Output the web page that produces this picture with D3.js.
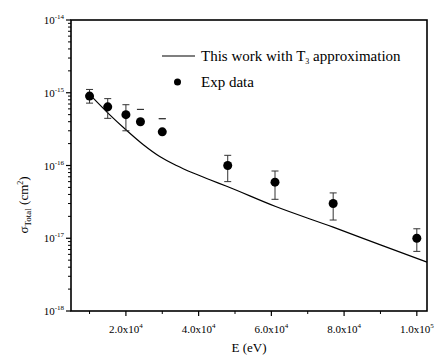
<!DOCTYPE html>
<html>
<head>
<meta charset="utf-8">
<script src="https://cdn.jsdelivr.net/npm/d3@7"></script>
<style>
  html, body { margin: 0; padding: 0; background: #fff; }
  text { font-family: "Liberation Serif", "Times New Roman", serif; fill: #000; }
</style>
</head>
<body>
<svg id="chart" width="435" height="358"></svg>
<script>
// Theory curve (This work with T3 approximation)
const curveE = [10000, 15000, 20000, 24800, 29300, 33900, 38500, 43100, 47700, 61000, 77000, 90000, 102800];
const curveSigma = [9.5e-16, 5.3e-16, 3.1e-16, 1.93e-16, 1.33e-16, 1.0e-16, 7.87e-17, 6.36e-17, 5.18e-17, 2.75e-17, 1.42e-17, 8.1e-18, 4.7e-18];

// Experimental data
const expE = [10000, 15000, 20000, 24000, 30000, 48000, 61000, 77000, 100000];
const expSigma = [9.0e-16, 6.4e-16, 5.0e-16, 4.0e-16, 2.9e-16, 1.0e-16, 5.9e-17, 3.0e-17, 1.0e-17];
const expErrHigh = [1.11e-15, 8.3e-16, 6.85e-16, 5.9e-16, 4.4e-16, 1.38e-16, 8.4e-17, 4.2e-17, 1.35e-17];
const expErrLow = [7.2e-16, 4.45e-16, 3.0e-16, 5.9e-16, 4.4e-16, 6.0e-17, 3.43e-17, 1.78e-17, 6.6e-18];

// Axis ticks
const xTicks = [20000, 40000, 60000, 80000, 100000];
const xTickLabels = ["2.0x10", "4.0x10", "6.0x10", "8.0x10", "1.0x10"];
const xTickExps = ["4", "4", "4", "4", "5"];
const xMinorTicks = [10000, 30000, 50000, 70000, 90000];
const yTicks = [1e-18, 1e-17, 1e-16, 1e-15, 1e-14];
const yTickExps = ["-18", "-17", "-16", "-15", "-14"];

const legendLabels = ["This work with T", "3", " approximation", "Exp data"];

const W = 435, H = 358;
const m = { left: 71, top: 20, right: 8, bottom: 47 };
const svg = d3.select("#chart");

const x = d3.scaleLinear().domain([4900, 102800]).range([m.left, W - m.right]);
const y = d3.scaleLog().domain([1e-18, 1e-14]).range([H - m.bottom, m.top]);

// frame
svg.append("rect")
  .attr("x", m.left).attr("y", m.top)
  .attr("width", W - m.right - m.left).attr("height", H - m.bottom - m.top)
  .attr("fill", "none").attr("stroke", "#000").attr("stroke-width", 1.6);

// y minor ticks
const yMinor = [];
for (let e = -18; e < -14; e++) for (let k = 2; k <= 9; k++) yMinor.push(k * Math.pow(10, e));
svg.append("g").selectAll("line").data(yMinor).join("line")
  .attr("x1", m.left - 3).attr("x2", m.left)
  .attr("y1", d => y(d)).attr("y2", d => y(d))
  .attr("stroke", "#000").attr("stroke-width", 1);
svg.append("g").selectAll("line").data(yTicks).join("line")
  .attr("x1", m.left - 5).attr("x2", m.left)
  .attr("y1", d => y(d)).attr("y2", d => y(d))
  .attr("stroke", "#000").attr("stroke-width", 1.2);

const yl = svg.append("g").selectAll("text").data(yTicks).join("text")
  .attr("x", m.left - 7).attr("y", d => y(d) + 4)
  .attr("text-anchor", "end").style("font-size", "11px");
yl.append("tspan").text("10");
yl.append("tspan").attr("dy", -5).style("font-size", "7px").text((d, i) => yTickExps[i]);

// x ticks
const yb = H - m.bottom;
svg.append("g").selectAll("line").data(xMinorTicks).join("line")
  .attr("x1", d => x(d)).attr("x2", d => x(d))
  .attr("y1", yb).attr("y2", yb + 3)
  .attr("stroke", "#000").attr("stroke-width", 1);
svg.append("g").selectAll("line").data(xTicks).join("line")
  .attr("x1", d => x(d)).attr("x2", d => x(d))
  .attr("y1", yb).attr("y2", yb + 5)
  .attr("stroke", "#000").attr("stroke-width", 1.2);
const xl = svg.append("g").selectAll("text").data(xTicks).join("text")
  .attr("x", d => x(d)).attr("y", yb + 22)
  .attr("text-anchor", "middle").style("font-size", "11px");
xl.append("tspan").text((d, i) => xTickLabels[i]);
xl.append("tspan").attr("dy", -5).style("font-size", "7px").text((d, i) => xTickExps[i]);

// axis titles
svg.append("text").attr("x", 249).attr("y", 352).attr("text-anchor", "middle")
  .style("font-size", "13px").text("E (eV)");
const yt = svg.append("text").attr("transform", "translate(28," + 205 + ") rotate(-90)")
  .attr("text-anchor", "middle").style("font-size", "13px");
yt.append("tspan").text("σ");
yt.append("tspan").attr("dy", 3).style("font-size", "9px").text("Total");
yt.append("tspan").attr("dy", -3).text(" (cm");
yt.append("tspan").attr("dy", -5).style("font-size", "8px").text("2");
yt.append("tspan").attr("dy", 5).text(")");

// theory line
const lineGen = d3.line().x((d, i) => x(curveE[i])).y(d => y(d)).curve(d3.curveMonotoneX);
svg.append("path").datum(curveSigma).attr("d", lineGen)
  .attr("fill", "none").attr("stroke", "#000").attr("stroke-width", 1.2);

// error bars
const eb = svg.append("g").attr("stroke", "#333").attr("stroke-width", 1);
expE.forEach((e, i) => {
  const cx = x(e);
  eb.append("line").attr("x1", cx).attr("x2", cx).attr("y1", y(expErrLow[i])).attr("y2", y(expErrHigh[i]));
  eb.append("line").attr("x1", cx - 3.5).attr("x2", cx + 3.5).attr("y1", y(expErrHigh[i])).attr("y2", y(expErrHigh[i]));
  eb.append("line").attr("x1", cx - 3.5).attr("x2", cx + 3.5).attr("y1", y(expErrLow[i])).attr("y2", y(expErrLow[i]));
});

// points
svg.append("g").selectAll("circle").data(expSigma).join("circle")
  .attr("cx", (d, i) => x(expE[i])).attr("cy", d => y(d)).attr("r", 4.5).attr("fill", "#000");

// legend
svg.append("line").attr("x1", 162).attr("x2", 195).attr("y1", 56).attr("y2", 56)
  .attr("stroke", "#000").attr("stroke-width", 1.2);
const lt = svg.append("text").attr("x", 201).attr("y", 61).style("font-size", "15px");
lt.append("tspan").text(legendLabels[0]);
lt.append("tspan").attr("dy", 3).style("font-size", "8px").text(legendLabels[1]);
lt.append("tspan").attr("dy", -3).text(legendLabels[2]);
svg.append("circle").attr("cx", 177.5).attr("cy", 82).attr("r", 3.5).attr("fill", "#000");
svg.append("text").attr("x", 201).attr("y", 87).style("font-size", "15px").text(legendLabels[3]);
</script>
</body>
</html>
